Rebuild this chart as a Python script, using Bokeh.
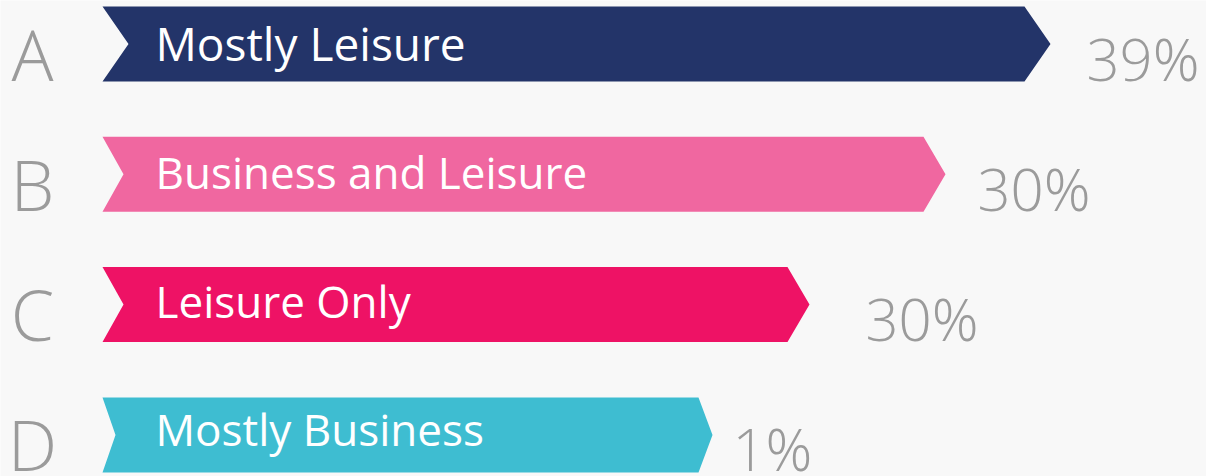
from bokeh.plotting import figure
from bokeh.models import Range1d, ColumnDataSource
from bokeh.core.properties import value
from bokeh.embed import file_html
from bokeh.resources import INLINE

# ---- data ----
letters = ["A", "B", "C", "D"]
categories = ["Mostly Leisure", "Business and Leisure", "Leisure Only", "Mostly Business"]
percent_values = [39, 30, 30, 1]
bar_extent = [948, 843, 707, 610]   # visual length of each arrow (not proportional)

# ---- styles / layout ----
colors = ["#233469", "#f067a0", "#ee1265", "#3ebdd1"]
notch_depth = [26, 21, 21, 13]
tip_depth = [26, 22, 22, 14]
pct_gap = [36, 32, 56, 20]
label_sizes = [46, 44, 44, 44]
label_drop = [17.5, 15.5, 14.5, 12.5]
row_step = 130.3
half_h = 37.5 / row_step
gray = "#9b9b9b"
light = value("'Open Sans Light', 'Open Sans'")


def px(v):
    return v / row_step


W, H = 1206, 476
p = figure(width=W, height=H, output_backend="svg", toolbar_location=None,
           x_range=Range1d(-102, 1104),
           y_range=Range1d((476 - 43.5) / row_step, (0 - 43.5) / row_step),
           x_axis_type=None, y_axis_type=None,
           min_border=0, min_border_left=0, min_border_right=0,
           min_border_top=0, min_border_bottom=0)
p.outline_line_color = None
p.background_fill_color = "#f8f8f8"
p.border_fill_color = "#f8f8f8"
p.grid.visible = False

rows = list(range(len(letters)))
xs, ys = [], []
for i, ext in enumerate(bar_extent):
    top, bot, mid = i - half_h, i + half_h, i
    xs.append([0, ext - tip_depth[i], ext, ext - tip_depth[i], 0, notch_depth[i]])
    ys.append([top, top, mid, bot, bot, mid])

src = ColumnDataSource(dict(xs=xs, ys=ys, color=colors))
p.patches("xs", "ys", source=src, fill_color="color", line_color=None)

# letters
p.text(x=[-70] * len(letters), y=[r + half_h - px(28) for r in rows], text=letters,
       text_font=light, text_font_size="70px", text_color=gray,
       text_align="center", text_baseline="alphabetic")

# category labels
lab_src = ColumnDataSource(dict(
    x=[53] * len(categories),
    y=[r + px(label_drop[r] - 0.41 * label_sizes[r]) for r in rows],
    text=categories,
    size=[f"{s}px" for s in label_sizes],
))
p.text(x="x", y="y", text="text", source=lab_src,
       text_font=value("Open Sans"), text_font_size="size", text_color="white",
       text_align="left", text_baseline="alphabetic")

# percentages
p.text(x=[bar_extent[i] + pct_gap[i] for i in rows],
       y=[r + half_h + px(1.5 - 25) for r in rows],
       text=[f"{v}%" for v in percent_values],
       text_font=light, text_font_size="58px", text_color=gray,
       text_align="left", text_baseline="alphabetic")

open("out.html", "w").write(file_html(p, INLINE))
